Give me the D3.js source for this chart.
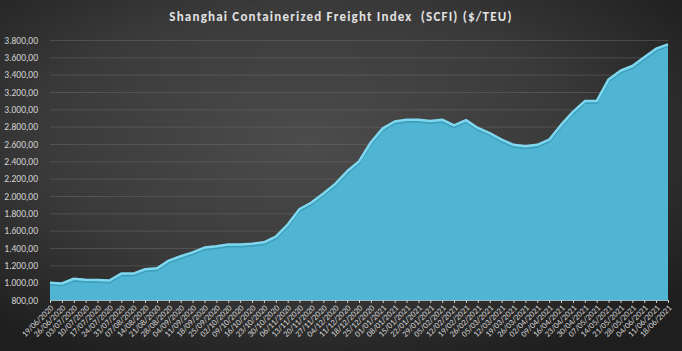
<!DOCTYPE html>
<html>
<head>
<meta charset="utf-8">
<script src="https://cdn.jsdelivr.net/npm/d3@7"></script>
<style>
  html, body { margin: 0; padding: 0; background: #2a2a2a; }
  svg { display: block; }
</style>
</head>
<body>
<svg id="chart" width="682" height="351"></svg>
<script>
// weekly SCFI readings, 19/06/2020 - 18/06/2021
const weeks = [
  '19/06/2020', '26/06/2020', '03/07/2020', '10/07/2020', '17/07/2020', '24/07/2020',
  '31/07/2020', '07/08/2020', '14/08/2020', '21/08/2020', '28/08/2020', '04/09/2020',
  '11/09/2020', '18/09/2020', '25/09/2020', '02/10/2020', '09/10/2020', '16/10/2020',
  '23/10/2020', '30/10/2020', '06/11/2020', '13/11/2020', '20/11/2020', '27/11/2020',
  '04/12/2020', '11/12/2020', '18/12/2020', '25/12/2020', '01/01/2021', '08/01/2021',
  '15/01/2021', '22/01/2021', '29/01/2021', '05/02/2021', '12/02/2021', '19/02/2021',
  '26/02/2021', '05/03/2021', '12/03/2021', '19/03/2021', '26/03/2021', '02/04/2021',
  '09/04/2021', '16/04/2021', '23/04/2021', '30/04/2021', '07/05/2021', '14/05/2021',
  '21/05/2021', '28/05/2021', '04/06/2021', '11/06/2021', '18/06/2021'
]

const scfi = [
  1000, 990, 1045, 1035, 1032, 1025,
  1105, 1105, 1155, 1165, 1255, 1305,
  1350, 1405, 1420, 1440, 1440, 1450,
  1465, 1530, 1670, 1850, 1925, 2030,
  2140, 2285, 2400, 2620, 2780, 2860,
  2880, 2880, 2865, 2880, 2815, 2875,
  2785, 2725, 2650, 2590, 2575, 2590,
  2650, 2820, 2970, 3095, 3095, 3345,
  3445, 3500, 3600, 3700, 3750
]

const yTicks = d3.range(800, 3801, 200)

const width = 682
const height = 351
const margin = { top: 40, right: 14, bottom: 51, left: 50 }
const chartWidth = width - margin.left - margin.right
const chartHeight = height - margin.top - margin.bottom

const fontFamily = "Calibri, Carlito, 'Open Sans', sans-serif"
const fmt = d3.formatLocale({ decimal: ',', thousands: '.', grouping: [3], currency: ['', ''] }).format(',.2f')

const data = weeks.map((w, i) => ({ week: w, value: scfi[i] }))

const svg = d3.select('#chart')

// background
const defs = svg.append('defs')
const grad = defs.append('radialGradient')
  .attr('id', 'bg')
  .attr('cx', '45%').attr('cy', '40%').attr('r', '70%')
grad.append('stop').attr('offset', '0%').attr('stop-color', '#4c4c4c')
grad.append('stop').attr('offset', '55%').attr('stop-color', '#3a3a3a')
grad.append('stop').attr('offset', '100%').attr('stop-color', '#1e1e1e')

svg.append('rect')
  .attr('width', width)
  .attr('height', height)
  .attr('fill', 'url(#bg)')

const x = d3.scalePoint()
  .domain(weeks)
  .range([0, chartWidth])

const y = d3.scaleLinear()
  .domain([800, 3800])
  .range([chartHeight, 0])

const g = svg.append('g')
  .attr('transform', 'translate(' + margin.left + ',' + margin.top + ')')

// gridlines
g.append('g')
  .attr('class', 'grid')
  .call(d3.axisLeft(y).tickValues(yTicks.slice(1)).tickSize(-chartWidth).tickFormat(''))
  .call((s) => s.select('.domain').remove())
  .selectAll('line')
  .attr('stroke', '#6a6a6a')
  .attr('stroke-opacity', 0.5)

// y labels
g.append('g')
  .call(d3.axisLeft(y).tickValues(yTicks).tickSize(0).tickPadding(12).tickFormat(fmt))
  .call((s) => s.select('.domain').remove())
  .selectAll('text')
  .attr('fill', '#d4d4d4')
  .style('font-family', fontFamily)
  .style('font-size', '9.5px')

// area
const area = d3.area()
  .x((d) => x(d.week))
  .y0(chartHeight)
  .y1((d) => y(d.value))

const line = d3.line()
  .x((d) => x(d.week))
  .y((d) => y(d.value))

g.append('path')
  .datum(data)
  .attr('d', area)
  .attr('fill', '#4fb5d2')

g.append('path')
  .datum(data)
  .attr('d', line)
  .attr('fill', 'none')
  .attr('stroke', '#3d9fbb')
  .attr('stroke-width', 2)
  .attr('transform', 'translate(0,2)')

g.append('path')
  .datum(data)
  .attr('d', line)
  .attr('fill', 'none')
  .attr('stroke', '#7fd8f0')
  .attr('stroke-width', 2.5)
  .attr('stroke-linejoin', 'round')

// x axis
const xAxis = g.append('g')
  .attr('transform', 'translate(0,' + chartHeight + ')')
  .call(d3.axisBottom(x).tickSize(3).tickSizeOuter(0))

xAxis.select('.domain').attr('stroke', '#9ab8c4').attr('stroke-width', 1.2)
xAxis.selectAll('line').attr('stroke', '#cfcfcf')

xAxis.selectAll('text')
  .attr('fill', '#d4d4d4')
  .style('font-family', fontFamily)
  .style('font-size', '8.5px')
  .attr('text-anchor', 'end')
  .attr('dx', '-0.4em')
  .attr('dy', '0.3em')
  .attr('transform', 'rotate(-45)')

// title
svg.append('text')
  .attr('x', width / 2)
  .attr('y', 21)
  .attr('text-anchor', 'middle')
  .attr('fill', '#e2e2e2')
  .style('font-family', fontFamily)
  .style('font-size', '13px')
  .style('font-weight', 'bold')
  .style('letter-spacing', '1.2px')
  .style('white-space', 'pre')
  .text('Shanghai Containerized Freight Index  (SCFI) ($/TEU)')
</script>
</body>
</html>
